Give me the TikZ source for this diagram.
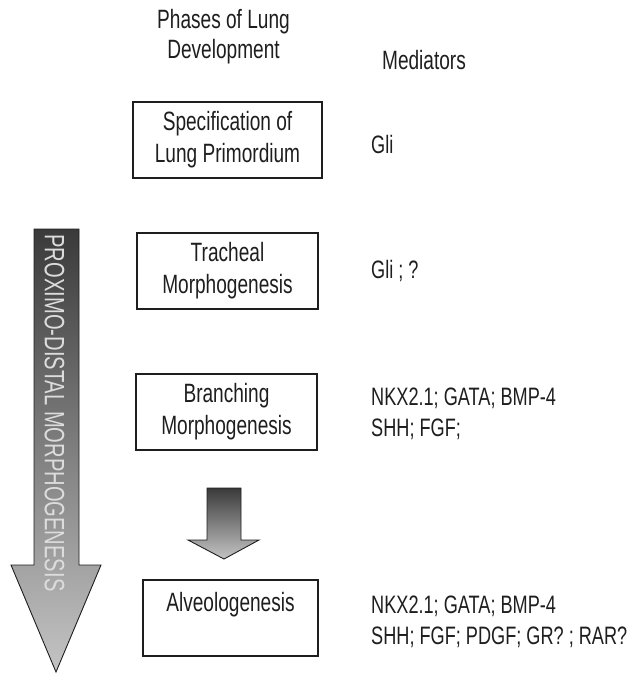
\documentclass[tikz,border=0pt]{standalone}
\usepackage{fontspec}
\setmainfont[FakeStretch=0.72]{Liberation Sans}
\usetikzlibrary{positioning}
\definecolor{inkgray}{HTML}{1E1E1E}
\definecolor{arrowdark}{HTML}{3A3A3A}
\definecolor{arrowlight}{HTML}{C4C4C4}
\definecolor{arrowtext}{HTML}{DCDCDC}
\tikzset{
    headtext/.style={align=center, text=inkgray, font=\fontsize{26.5}{30}\selectfont},
    phasebox/.style={draw=inkgray, line width=1.1pt, inner sep=0pt, minimum height=76pt,
        align=center, text=inkgray, font=\fontsize{26.5}{32}\selectfont},
    medtext/.style={anchor=west, align=left, inner sep=0pt, text=inkgray,
        font=\fontsize{25.2}{31}\selectfont},
    shadearrow/.style={draw=inkgray, line width=0.9pt, line join=miter,
        top color=arrowdark, bottom color=arrowlight}
}
\begin{document}
\begin{tikzpicture}[x=1pt, y=-1pt]
    \useasboundingbox (0,0) rectangle (630,675);
    % column heads
    \node[headtext] (phases) at (223.5,37) {Phases of Lung\\Development};
    \node[headtext] (mediators) at (424,60) {Mediators};
    % phases
    \node[phasebox, minimum width=189pt] (spec) at (227.5,140) {Specification of\\Lung Primordium};
    \node[phasebox, minimum width=181pt] (trach) at (227.5,271) {Tracheal\\Morphogenesis};
    \node[phasebox, minimum width=181pt] (branch) at (226.5,412) {Branching\\Morphogenesis};
    \node[phasebox, minimum width=175pt] (alveo) at (230.5,618) {Alveologenesis\\\mbox{}};
    % mediators
    \node[medtext] (gli) at (371,144) {Gli};
    \node[medtext] (glitrach) at (371,271) {Gli ; ?};
    \node[medtext] (medbranch) at (371,414) {NKX2.1; GATA; BMP-4\\SHH; FGF;};
    \node[medtext] (medalveo) at (371,622) {NKX2.1; GATA; BMP-4\\SHH; FGF; PDGF; GR? ; RAR?};
    % big arrow
    \draw[shadearrow] (34,229) -- (79,229) -- (79,565) -- (101,565) -- (56,672)
        -- (11,565) -- (34,565) -- cycle;
    \node[rotate=-90, text=arrowtext, font=\fontsize{28}{28}\selectfont] (proxdist) at (54.5,413)
        {PROXIMO-DISTAL MORPHOGENESIS};
    % small arrow
    \draw[shadearrow] (207,488) -- (241,488) -- (241,540) -- (259,540) -- (224,559)
        -- (188,540) -- (207,540) -- cycle;
\end{tikzpicture}
\end{document}
